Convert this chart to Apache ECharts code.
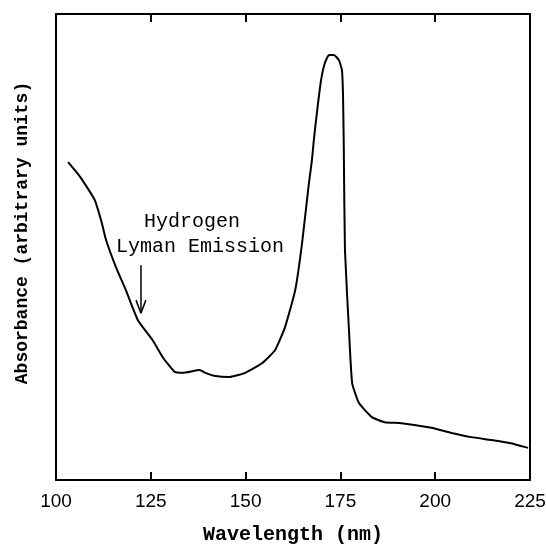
<!DOCTYPE html>
<html>
<head>
<meta charset="utf-8">
<script src="https://cdn.jsdelivr.net/npm/echarts@6/dist/echarts.min.js"></script>
<style>
    html, body { margin: 0; padding: 0; background: #fff; }
    #chart { width: 546px; height: 544px; }
</style>
</head>
<body>
<div id="chart"></div>
<script>
    // wavelength (nm) and absorbance (arbitrary, 0-100 of plot height)
    var wavelength = [103.2, 106.5, 110.2, 112.0, 113.2, 115.8, 118.4, 121.6, 125.5, 128.1, 131.3, 133.4,
        137.9, 139.4, 142.1, 145.7, 149.9, 154.4, 157.8, 160.4, 163.1, 164.9, 166.7, 167.5, 168.0,
        168.8, 169.9, 170.9, 172.0, 173.3, 174.6, 175.4, 175.7, 175.9, 176.2, 177.3, 178.1, 179.9,
        183.3, 186.7, 191.1, 199.0, 204.3, 209.5, 214.8, 220.0, 222.6, 224.5];
    var absorbance = [68.2, 64.9, 60.1, 55.4, 51.5, 45.7, 40.8, 34.3, 30.0, 26.4, 23.2, 23.0,
        23.6, 23.0, 22.3, 22.1, 23.0, 25.1, 27.9, 32.8, 40.8, 50.9, 63.7, 68.7, 73.0,
        78.8, 85.8, 89.5, 91.2, 91.2, 90.1, 88.0, 82.2, 70.8, 49.4, 31.5, 20.8, 16.5,
        13.5, 12.4, 12.2, 11.2, 10.1, 9.2, 8.6, 7.9, 7.3, 6.9];
    var arrowX = 122.4;
    var arrowY = [46.1, 35.8];
    var noteLines = ['Hydrogen', 'Lyman Emission'];

    var points = wavelength.map(function (w, i) { return [w, absorbance[i]]; });
    var tip = [arrowX, arrowY[1]];

    var chart = echarts.init(document.getElementById('chart'));
    chart.setOption({
        animation: false,
        grid: { left: 56, right: 16, top: 14, bottom: 64, containLabel: false, outerBoundsMode: 'none' },
        xAxis: [{
            type: 'value',
            min: 100,
            max: 225,
            interval: 25,
            name: 'Wavelength (nm)',
            nameLocation: 'middle',
            nameGap: 45,
            nameTextStyle: { fontFamily: 'Liberation Mono', fontWeight: 'bold', fontSize: 20, color: '#000' },
            axisLine: { onZero: false, lineStyle: { color: '#000', width: 2 } },
            axisTick: { show: true, inside: true, length: 8, lineStyle: { color: '#000', width: 2 } },
            axisLabel: { margin: 12, fontFamily: 'Liberation Sans', fontSize: 19, color: '#000' },
            splitLine: { show: false }
        }, {
            type: 'value',
            position: 'top',
            min: 100,
            max: 225,
            interval: 25,
            axisLine: { show: true, onZero: false, lineStyle: { color: '#000', width: 2 } },
            axisTick: { show: true, inside: true, length: 8, lineStyle: { color: '#000', width: 2 } },
            axisLabel: { show: false },
            splitLine: { show: false }
        }],
        yAxis: [{
            type: 'value',
            min: 0,
            max: 100,
            axisLine: { show: true, onZero: false, lineStyle: { color: '#000', width: 2 } },
            axisTick: { show: false },
            axisLabel: { show: false },
            splitLine: { show: false }
        }, {
            type: 'value',
            position: 'right',
            min: 0,
            max: 100,
            axisLine: { show: true, onZero: false, lineStyle: { color: '#000', width: 2 } },
            axisTick: { show: false },
            axisLabel: { show: false },
            splitLine: { show: false }
        }],
        series: [{
            type: 'line',
            data: points,
            smooth: 0.15,
            symbol: 'none',
            lineStyle: { color: '#000', width: 2 },
            markLine: {
                silent: true,
                symbol: ['none', 'none'],
                label: { show: false },
                lineStyle: { color: '#000', width: 1.5, type: 'solid' },
                data: [
                    [{ coord: [arrowX, arrowY[0]] }, { coord: tip }],
                    [{ coord: [arrowX - 1.3, arrowY[1] + 2.8] }, { coord: tip }],
                    [{ coord: [arrowX + 1.3, arrowY[1] + 2.8] }, { coord: tip }]
                ]
            }
        }],
        graphic: [{
            type: 'text',
            x: 192,
            y: 222,
            style: { text: noteLines[0], fontFamily: 'Liberation Mono', fontSize: 20, fill: '#000', align: 'center', verticalAlign: 'middle' }
        }, {
            type: 'text',
            x: 200,
            y: 247,
            style: { text: noteLines[1], fontFamily: 'Liberation Mono', fontSize: 20, fill: '#000', align: 'center', verticalAlign: 'middle' }
        }, {
            type: 'text',
            x: 22,
            y: 233,
            rotation: Math.PI / 2,
            style: { text: 'Absorbance (arbitrary units)', fontFamily: 'Liberation Mono', fontWeight: 'bold', fontSize: 18, fill: '#000', align: 'center', verticalAlign: 'middle' }
        }]
    });
</script>
</body>
</html>
